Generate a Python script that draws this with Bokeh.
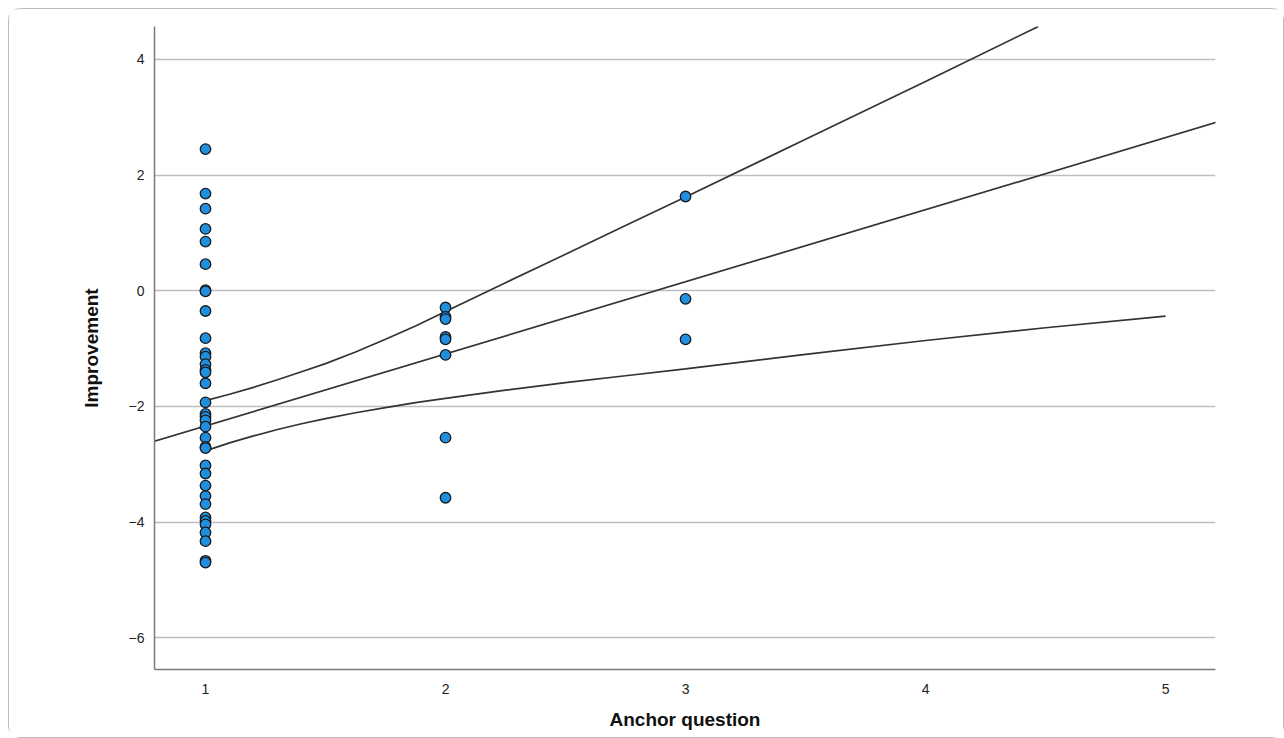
from bokeh.plotting import figure
from bokeh.models import Range1d, FixedTicker
from bokeh.embed import file_html
from bokeh.resources import INLINE

# ---- data ----
anchor1_improvement = [2.45, 1.68, 1.42, 1.07, 0.85, 0.46, 0.01, -0.01, -0.35, -0.82,
                       -1.08, -1.14, -1.27, -1.37, -1.41, -1.60, -1.93, -2.13, -2.18,
                       -2.24, -2.35, -2.54, -2.70, -2.72, -3.02, -3.16, -3.37, -3.55,
                       -3.69, -3.92, -3.98, -4.04, -4.18, -4.33, -4.67, -4.70]
anchor2_improvement = [-0.29, -0.45, -0.49, -0.80, -0.84, -1.11, -2.54, -3.58]
anchor3_improvement = [1.63, -0.14, -0.84]

# linear fit line
fit_x = [0.75, 5.25]
fit_y = [-2.65, 2.96]

# upper confidence band
upper_x = [1.0, 1.1, 1.2, 1.3, 1.4, 1.5, 1.625, 1.75, 1.875, 2.0,
           2.25, 2.5, 2.75, 3.0, 3.5, 4.0, 4.47]
upper_y = [-1.90, -1.79, -1.67, -1.54, -1.40, -1.26, -1.06, -0.84, -0.61, -0.36,
           0.14, 0.63, 1.13, 1.62, 2.62, 3.62, 4.57]

# lower confidence band
lower_x = [1.0, 1.1, 1.2, 1.3, 1.4, 1.5, 1.625, 1.75, 1.875, 2.0,
           2.25, 2.5, 2.75, 3.0, 3.5, 4.0, 4.5, 5.0]
lower_y = [-2.77, -2.63, -2.51, -2.40, -2.30, -2.21, -2.11, -2.02, -1.935, -1.86,
           -1.72, -1.59, -1.47, -1.35, -1.10, -0.86, -0.64, -0.44]

x_ticks = [1, 2, 3, 4, 5]
y_ticks = [-6, -4, -2, 0, 2, 4]

xs = ([1] * len(anchor1_improvement) + [2] * len(anchor2_improvement)
      + [3] * len(anchor3_improvement))
ys = anchor1_improvement + anchor2_improvement + anchor3_improvement

FONT = "Liberation Sans"

p = figure(width=1276, height=730, output_backend="svg", toolbar_location=None,
           x_range=Range1d(0.7875, 5.208), y_range=Range1d(-6.55, 4.57),
           min_border_left=145, min_border_right=70, min_border_top=17,
           min_border_bottom=70)
p.styles = {"border": "1px solid #bdbdbd", "border-radius": "12px",
            "box-sizing": "border-box"}
p.outline_line_color = None
p.background_fill_color = "white"

# grid
p.xgrid.grid_line_color = None
p.ygrid.ticker = FixedTicker(ticks=y_ticks)
p.ygrid.grid_line_color = "#bfbcc2"
p.ygrid.grid_line_width = 1.3

# axes
p.xaxis.ticker = FixedTicker(ticks=x_ticks)
p.yaxis.ticker = FixedTicker(ticks=y_ticks)
for ax in (p.xaxis[0], p.yaxis[0]):
    ax.axis_line_color = "#7a7a7a"
    ax.axis_line_width = 1.5
    ax.major_tick_line_color = None
    ax.minor_tick_line_color = None
    ax.major_tick_out = 0
    ax.major_tick_in = 0
    ax.minor_tick_out = 0
    ax.major_label_text_font = FONT
    ax.major_label_text_font_size = "14px"
    ax.major_label_text_color = "#222222"
    ax.axis_label_text_font = FONT
    ax.axis_label_text_font_style = "bold"
    ax.axis_label_text_color = "#111111"
p.xaxis.major_label_standoff = 14
p.yaxis.major_label_standoff = 10
p.yaxis.major_label_overrides = {t: str(t).replace("-", "\u2212") for t in y_ticks}

p.xaxis.axis_label = "Anchor question"
p.xaxis.axis_label_text_font_size = "19px"
p.xaxis.axis_label_standoff = 12

p.yaxis.axis_label = "Improvement"
p.yaxis.axis_label_text_font_size = "19px"
p.yaxis.axis_label_standoff = 24

# lines
p.line(fit_x, fit_y, line_color="#333333", line_width=1.7)
p.line(upper_x, upper_y, line_color="#333333", line_width=1.7)
p.line(lower_x, lower_y, line_color="#333333", line_width=1.7)

# points
p.scatter(xs, ys, size=10.5, fill_color="#1f8fe0", line_color="#1a1a1a",
          line_width=1.3)

html = file_html(p, INLINE)
html = html.replace("</head>",
                    "<style>html,body{overflow:hidden !important}"
                    "body{padding:8px 0 0 8px !important}</style></head>", 1)
open("out.html", "w").write(html)
